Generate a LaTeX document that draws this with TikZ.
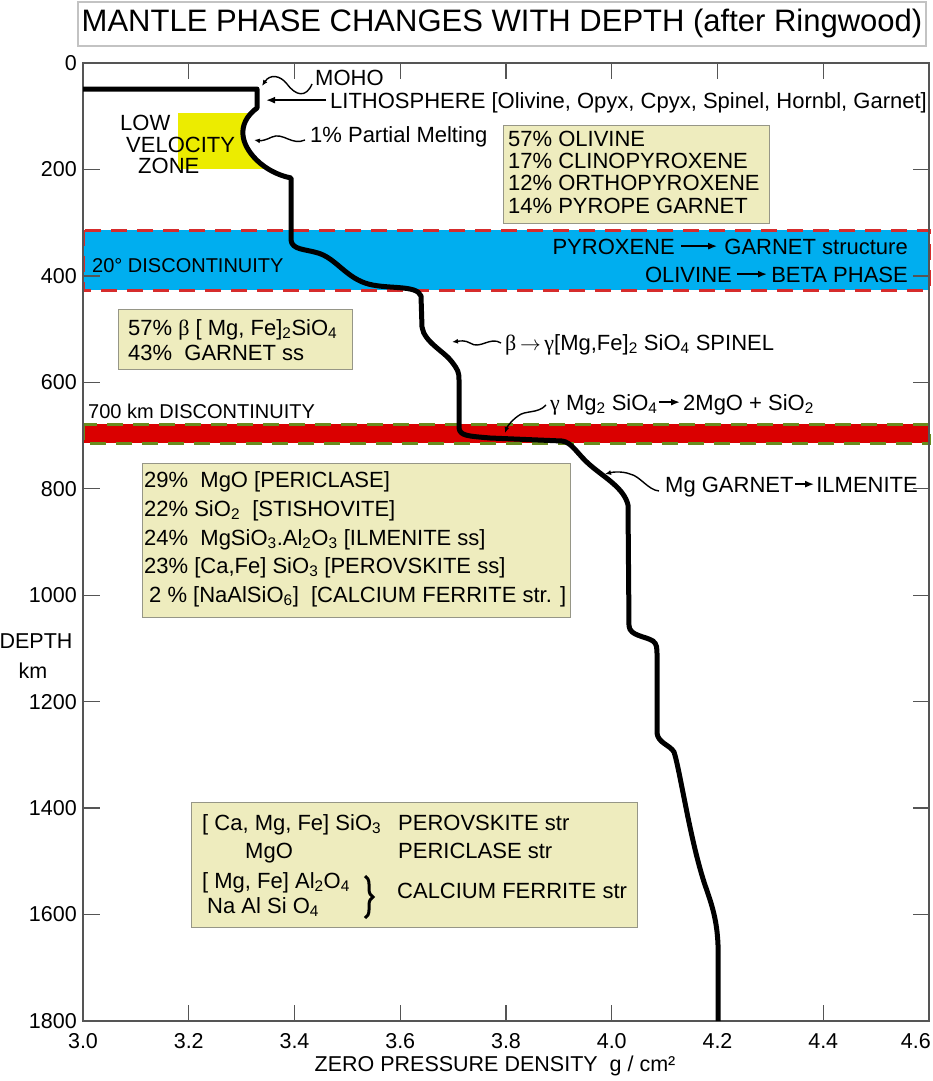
\documentclass[tikz,border=0pt]{standalone}
\usepackage{fontspec}
\setmainfont{Liberation Sans}
\newfontfamily\grk{Liberation Serif}
\usetikzlibrary{arrows.meta,calc,decorations.pathreplacing}
\definecolor{bandblue}{RGB}{0,174,239}
\definecolor{bandred}{RGB}{218,0,0}
\definecolor{dashred}{RGB}{214,44,44}
\definecolor{dashgreen}{RGB}{105,140,30}
\definecolor{lvzyellow}{RGB}{236,236,0}
\definecolor{boxfill}{RGB}{238,236,190}
\definecolor{boxline}{RGB}{150,150,135}
\definecolor{axisgray}{RGB}{85,85,85}
\definecolor{titleline}{RGB}{195,195,195}
\newcommand{\annfont}{\fontsize{22}{26}\selectfont}
\newcommand{\smallann}{\fontsize{20}{24}\selectfont}
\newcommand{\axfont}{\fontsize{21.5}{25}\selectfont}
\begin{document}
\begin{tikzpicture}[x=1pt,y=-1pt,
  lbl/.style={inner sep=0pt,anchor=base west,font=\annfont,text height=15.7pt,text depth=0pt},
  lblr/.style={lbl,anchor=base east},
  infobox/.style={draw=boxline,line width=1.2pt,fill=boxfill,inner sep=0pt,anchor=north west},
  ylab/.style={inner sep=0pt,anchor=east,font=\axfont},
  xlab/.style={inner sep=0pt,anchor=base,font=\axfont},
  tick/.style={draw=axisgray,line width=1.3pt},
  tarrow/.style={line width=2pt,-{Latex[length=9pt,width=7pt]}},
  wavy/.style={line width=1.4pt,-{Latex[length=6pt,width=5pt]}},
  density/.style={line width=5pt,line join=round},
  bandedge/.style={line width=3pt,dash pattern=on 16pt off 10pt},
]
\useasboundingbox (0,0) rectangle (932,1081);
\fill[white] (0,0) rectangle (932,1081);

% title
\node[draw=titleline,line width=1.5pt,minimum width=848pt,minimum height=44pt,inner sep=0pt] (titlebox) at (502,24) {};
\node[inner sep=0pt,anchor=base,font=\fontsize{31}{36}\selectfont] (title) at (502,31.5) {MANTLE PHASE CHANGES WITH DEPTH (after Ringwood)};

% discontinuity bands
\fill[bandblue] (83,230) rectangle (929,290);
\draw[bandedge,dashred] (83,230) rectangle (929,290);
\fill[bandred] (83,424) rectangle (929,443);
\draw[bandedge,dashgreen] (83,424) rectangle (929,443);

% low velocity zone
\begin{scope}
\clip (178,113) rectangle (300,168);
\fill[lvzyellow] (170,100) -- (257,100) -- (257,108) .. controls (246,116) and (242,126) .. (243,135) .. controls (244,150) and (262,172) .. (291,178) -- (170,178) -- cycle;
\end{scope}

% info boxes
\node[infobox,minimum width=266pt,minimum height=98pt] (box1) at (503,125) {};
\node[infobox,minimum width=234pt,minimum height=60pt] (box2) at (118,309) {};
\node[infobox,minimum width=428pt,minimum height=154pt] (box3) at (142,463) {};
\node[infobox,minimum width=446pt,minimum height=125pt] (box4) at (191,802) {};

% frame and ticks
\draw[axisgray,line width=1.8pt] (83,63) rectangle (929,1021);
\foreach \i in {1,...,7} {
  \draw[tick] ({83+105.75*\i},63) -- ++(0,16);
  \draw[tick] ({83+105.75*\i},1021) -- ++(0,-16);
}
\foreach \d in {200,400,...,1600} {
  \draw[tick] (83,{63+0.53222*\d}) -- ++(17,0);
  \draw[tick] (929,{63+0.53222*\d}) -- ++(-16,0);
}
\foreach \d in {0,200,...,1800} {
  \node[ylab] (yl\d) at (77,{63+0.53222*\d}) {\d};
}
\foreach \v [count=\i from 0] in {3.0,3.2,3.4,3.6,3.8,4.0,4.2,4.4} {
  \node[xlab] (xl\i) at ({83+105.75*\i},1048) {\v};
}
\node[xlab,anchor=base east] (xl8) at (931,1048) {4.6};
\node[xlab] (xtitle) at (495,1071) {ZERO PRESSURE DENSITY\ \ g / cm²};
\node[xlab] (ytitle) at (36,648) {DEPTH};
\node[xlab] (yunit) at (33,678) {km};

% labels
\node[lbl] (lowt) at (120,130) {LOW};
\node[lbl] (velt) at (126,152) {VELOCITY};
\node[lbl] (zonet) at (138,173) {ZONE};
\node[lbl] (moho) at (315,85) {MOHO};
\node[lbl] (lith) at (330,108) {LITHOSPHERE [Olivine, Opyx, Cpyx, Spinel, Hornbl, Garnet]};
\node[lbl] (pmelt) at (310,142) {1\% Partial Melting};

\foreach \t [count=\i] in {57\% OLIVINE,17\% CLINOPYROXENE,12\% ORTHOPYROXENE,14\% PYROPE GARNET} {
  \node[lbl] (b1l\i) at (508,{146+22.4*(\i-1)}) {\t};
}

\node[lblr] (gar) at (908,254) {GARNET structure};
\node[lblr] (pyx) at (675,254) {PYROXENE};
\draw[tarrow] ([xshift=6pt]pyx.east) -- ([xshift=-7pt]gar.west);
\node[lblr] (beta) at (908,282) {BETA PHASE};
\node[lblr] (oliv) at (732,282) {OLIVINE};
\draw[tarrow] ([xshift=5pt]oliv.east) -- ([xshift=-4pt]beta.west);
\node[lbl,font=\smallann] (disc20) at (92,272) {20° DISCONTINUITY};

\node[lbl] (b2l1) at (128,335) {57\%\ {\grk β} [ Mg, Fe]\textsubscript{2}SiO\textsubscript{4}};
\node[lbl] (b2l2) at (128,360) {43\%\ \ GARNET ss};

\node[lbl] (spin) at (505,350) {{\grk β}\,$\rightarrow$\,{\grk γ}[Mg,Fe]\textsubscript{2} SiO\textsubscript{4} SPINEL};

\node[lbl,font=\smallann] (disc700) at (88,418) {700 km DISCONTINUITY};
\node[lbl] (gam) at (550,410) {{\grk γ} Mg\textsubscript{2} SiO\textsubscript{4}};
\node[lbl] (mgo) at (683,410) {2MgO + SiO\textsubscript{2}};
\draw[tarrow] ([xshift=1pt]gam.east) -- ([xshift=-3pt]mgo.west);

\node[lbl] (mgg) at (665,492) {Mg GARNET};
\node[lblr] (ilm) at (918,492) {ILMENITE};
\draw[tarrow] ([xshift=1pt]mgg.east) -- ([xshift=-2pt]ilm.west);

\node[lbl] (b3l1) at (144,487) {29\%\ \ MgO [PERICLASE]};
\node[lbl] (b3l2) at (144,516) {22\% SiO\textsubscript{2}\ \ [STISHOVITE]};
\node[lbl] (b3l3) at (144,545) {24\%\ \ MgSiO\textsubscript{3}.Al\textsubscript{2}O\textsubscript{3} [ILMENITE ss]};
\node[lbl] (b3l4) at (144,573) {23\% [Ca,Fe] SiO\textsubscript{3} [PEROVSKITE ss]};
\node[lbl] (b3l5) at (149,602) {2 \% [NaAlSiO\textsubscript{6}]\ \ [CALCIUM FERRITE str. ]};

\node[lbl] (b4a) at (202,830) {[ Ca, Mg, Fe] SiO\textsubscript{3}};
\node[lbl] (b4b) at (398,830) {PEROVSKITE str};
\node[lbl] (b4c) at (245,858) {MgO};
\node[lbl] (b4d) at (398,858) {PERICLASE str};
\node[lbl] (b4e) at (202,888) {[ Mg, Fe] Al\textsubscript{2}O\textsubscript{4}};
\node[lbl] (b4f) at (207,913) {Na Al Si O\textsubscript{4}};
\node[lbl] (b4g) at (397,898) {CALCIUM FERRITE str};
\draw[line width=3pt,decorate,decoration={brace,amplitude=8pt}] (365,876) -- (365,918);

% density curve
\draw[density] (83,89) -- (257,89) -- (257,108) .. controls (246,116) and (242,126) .. (243,135) .. controls (244,150) and (262,172) .. (291,178) -- (291,240) .. controls (292,250) and (305,249) .. (318,253) .. controls (335,258) and (345,276) .. (365,283) .. controls (385,290) and (417,284) .. (421,296) -- (422,327) .. controls (424,342) and (445,352) .. (452,362) .. controls (458,370) and (459,372) .. (459,380) -- (459,428) .. controls (460,436) and (468,436) .. (490,438) -- (562,441) .. controls (572,442) and (578,455) .. (590,465) .. controls (605,478) and (624,488) .. (628,505) -- (629,626) .. controls (630,636) and (645,636) .. (653,641) .. controls (657,644) and (657,648) .. (657,656) -- (657,733) .. controls (658,743) and (670,745) .. (674,752) .. controls (680,770) and (690,840) .. (705,885) .. controls (712,905) and (717,920) .. (718,945) -- (718,1021);

% pointer arrows
\coordinate (mohoPt) at (262,86);
\coordinate (lithPt) at (266,101);
\coordinate (pmPt) at (254,140);
\coordinate (spPt) at (452,342);
\coordinate (gamPt) at (505,433);
\coordinate (ilmPt) at (605,474);
\draw[wavy] ($(moho.base west)+(-3,-1)$) .. controls (306,98) and (296,96) .. (287,84) .. controls (280,75) and (270,74) .. (mohoPt);
\draw[tarrow] ([xshift=-4pt]lith.west) -- (lithPt |- lith.west);
\draw[wavy] ($(pmelt.base west)+(-5,-2)$) .. controls (292,146) and (283,132) .. (272,137) .. controls (266,140) and (261,141) .. (pmPt);
\draw[wavy] ($(spin.base west)+(-4,-7)$) .. controls (490,336) and (480,350) .. (470,343) .. controls (465,340) and (460,341) .. (spPt);
\draw[wavy] ($(gam.base west)+(-4,-5)$) .. controls (538,414) and (525,410) .. (518,416) .. controls (511,421) and (507,427) .. (gamPt);
\draw[wavy] ($(mgg.base west)+(-6,-1)$) .. controls (648,490) and (640,476) .. (630,474) .. controls (622,471) and (613,472) .. (ilmPt);
\end{tikzpicture}
\end{document}
